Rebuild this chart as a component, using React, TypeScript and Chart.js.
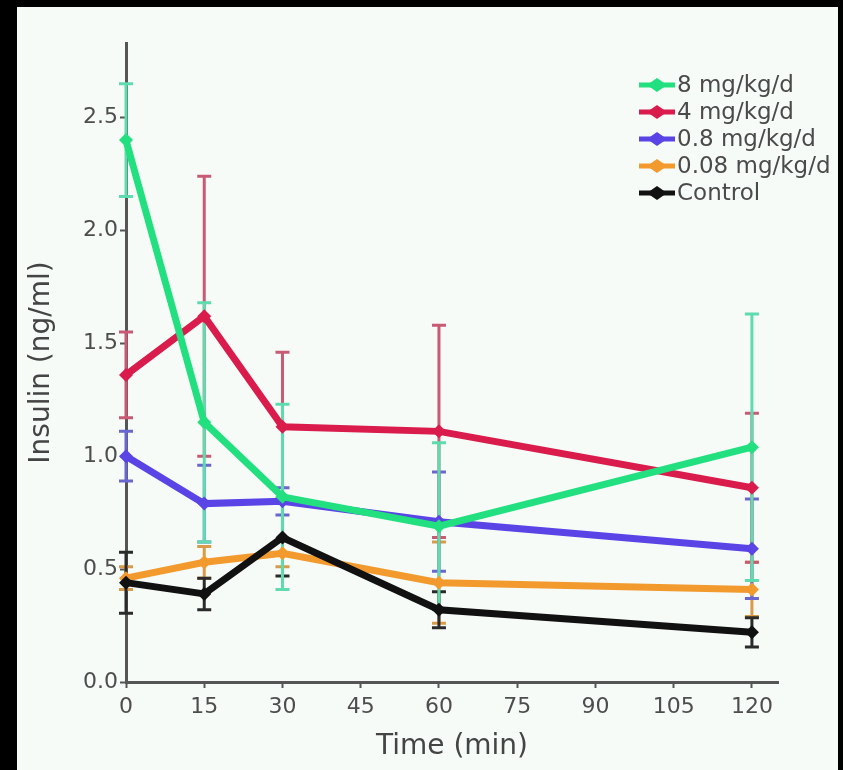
import React, { useEffect, useRef } from "react";
import { Chart, registerables } from "chart.js";

Chart.register(...registerables);

// ---- data ----
const times = [0, 15, 30, 60, 120];
const seriesLabels = ["8 mg/kg/d", "4 mg/kg/d", "0.8 mg/kg/d", "0.08 mg/kg/d", "Control"];
const mean8 = [2.4, 1.15, 0.82, 0.69, 1.04];
const err8 = [0.25, 0.53, 0.41, 0.37, 0.59];
const mean4 = [1.36, 1.62, 1.13, 1.11, 0.86];
const err4 = [0.19, 0.62, 0.33, 0.47, 0.33];
const mean08 = [1.0, 0.79, 0.8, 0.71, 0.59];
const err08 = [0.11, 0.17, 0.06, 0.22, 0.22];
const mean008 = [0.46, 0.53, 0.57, 0.44, 0.41];
const err008 = [0.05, 0.07, 0.06, 0.18, 0.12];
const meanCtrl = [0.44, 0.39, 0.64, 0.32, 0.22];
const errCtrl = [0.135, 0.07, 0.17, 0.08, 0.065];
const yTicks = [0, 0.5, 1.0, 1.5, 2.0, 2.5];
const xTicks = [0, 15, 30, 45, 60, 75, 90, 105, 120];

const lineColors = ["#22e07f", "#d91c4c", "#5a44e6", "#f29a2e", "#111111"];
const barColors = ["#5fdcae", "#c95a74", "#6a66d0", "#d99a4a", "#2a2a2a"];
const means = [mean8, mean4, mean08, mean008, meanCtrl];
const errs = [err8, err4, err08, err008, errCtrl];
const drawOrder = [0, 2, 3, 4, 1];

const FONT = "'DejaVu Sans', Verdana, sans-serif";

const errorBarPlugin = {
  id: "errorBars",
  beforeDatasetsDraw(chart: any) {
    const { ctx } = chart;
    const xs = chart.scales.x;
    const ys = chart.scales.y;
    const order = chart.data.datasets.map((_: any, i: number) => i).sort(
      (a: number, b: number) => chart.data.datasets[b].order - chart.data.datasets[a].order
    );
    order.forEach((i: number) => {
      const ds = chart.data.datasets[i];
      const e = ds.errors as number[];
      ctx.save();
      ctx.strokeStyle = ds.barColor;
      ctx.lineWidth = 3;
      ds.data.forEach((p: any, j: number) => {
        const px = xs.getPixelForValue(p.x);
        const top = ys.getPixelForValue(p.y + e[j]);
        const bot = ys.getPixelForValue(p.y - e[j]);
        ctx.beginPath();
        ctx.moveTo(px, top);
        ctx.lineTo(px, bot);
        ctx.moveTo(px - 7, top);
        ctx.lineTo(px + 7, top);
        ctx.moveTo(px - 7, bot);
        ctx.lineTo(px + 7, bot);
        ctx.stroke();
      });
      ctx.restore();
    });
  },
};

const legendPlugin = {
  id: "customLegend",
  afterDraw(chart: any) {
    const { ctx } = chart;
    const x0 = 622;
    const y0 = 78;
    const rowH = 27;
    chart.data.datasets.forEach((ds: any, i: number) => {
      const y = y0 + i * rowH;
      ctx.save();
      ctx.strokeStyle = ds.borderColor;
      ctx.lineWidth = 5;
      ctx.beginPath();
      ctx.moveTo(x0, y);
      ctx.lineTo(x0 + 36, y);
      ctx.stroke();
      ctx.fillStyle = ds.borderColor;
      ctx.beginPath();
      const cx = x0 + 18;
      ctx.moveTo(cx - 10, y);
      ctx.lineTo(cx, y - 7);
      ctx.lineTo(cx + 10, y);
      ctx.lineTo(cx, y + 7);
      ctx.closePath();
      ctx.fill();
      ctx.fillStyle = "#4a4a4a";
      ctx.font = `23px ${FONT}`;
      ctx.textBaseline = "middle";
      ctx.textAlign = "left";
      ctx.fillText(ds.label, x0 + 38, y + 1);
      ctx.restore();
    });
  },
};

export default function App() {
  const ref = useRef<HTMLCanvasElement | null>(null);

  useEffect(() => {
    document.body.style.margin = "0";
    document.body.style.background = "#000";
    const canvas = ref.current;
    if (!canvas) return;
    const datasets = seriesLabels.map((label, i) => ({
      label,
      data: times.map((t, j) => ({ x: t, y: means[i][j] })),
      errors: errs[i],
      barColor: barColors[i],
      borderColor: lineColors[i],
      backgroundColor: lineColors[i],
      borderWidth: 7,
      pointStyle: "rectRot",
      pointRadius: 7,
      pointBorderWidth: 0,
      tension: 0,
      order: drawOrder[i],
      clip: false,
    }));
    const chart = new Chart(canvas, {
      type: "line",
      data: { datasets } as any,
      plugins: [errorBarPlugin, legendPlugin],
      options: {
        animation: false,
        responsive: false,
        layout: { padding: { left: 0, right: 60, top: 36, bottom: 0 } },
        plugins: { legend: { display: false }, tooltip: { enabled: false } },
        scales: {
          x: {
            type: "linear",
            min: 0,
            max: 125,
            afterBuildTicks: (s: any) => {
              s.ticks = xTicks.map((v) => ({ value: v }));
            },
            afterFit: (s: any) => {
              s.height = 88;
            },
            grid: {
              drawOnChartArea: false,
              drawTicks: true,
              tickLength: 6,
              tickColor: "#555",
              tickWidth: 2,
            },
            border: { color: "#555", width: 3 },
            ticks: {
              color: "#4d4d4d",
              font: { family: FONT, size: 22 },
              padding: 6,
              maxRotation: 0,
            },
            title: {
              display: true,
              text: "Time (min)",
              color: "#444",
              font: { family: FONT, size: 28 },
              padding: { top: 4, bottom: 6 },
            },
          },
          y: {
            type: "linear",
            min: 0,
            max: 2.83,
            afterBuildTicks: (s: any) => {
              s.ticks = yTicks.map((v) => ({ value: v }));
            },
            afterFit: (s: any) => {
              s.width = 109;
            },
            grid: {
              drawOnChartArea: false,
              drawTicks: true,
              tickLength: 6,
              tickColor: "#555",
              tickWidth: 2,
            },
            border: { color: "#555", width: 3 },
            ticks: {
              color: "#4d4d4d",
              font: { family: FONT, size: 22 },
              padding: 2,
              callback: (v: any) => Number(v).toFixed(1),
            },
            title: {
              display: true,
              text: "Insulin (ng/ml)",
              color: "#444",
              font: { family: FONT, size: 28 },
              padding: { top: 8, bottom: 0 },
            },
          },
        },
      } as any,
    });
    return () => chart.destroy();
  }, []);

  return (
    <div
      style={{
        position: "absolute",
        left: 17,
        top: 7,
        width: 821,
        height: 763,
        background: "#f7fbf8",
        overflow: "hidden",
      }}
    >
      <canvas ref={ref} width={821} height={763} style={{ display: "block" }} />
    </div>
  );
}
